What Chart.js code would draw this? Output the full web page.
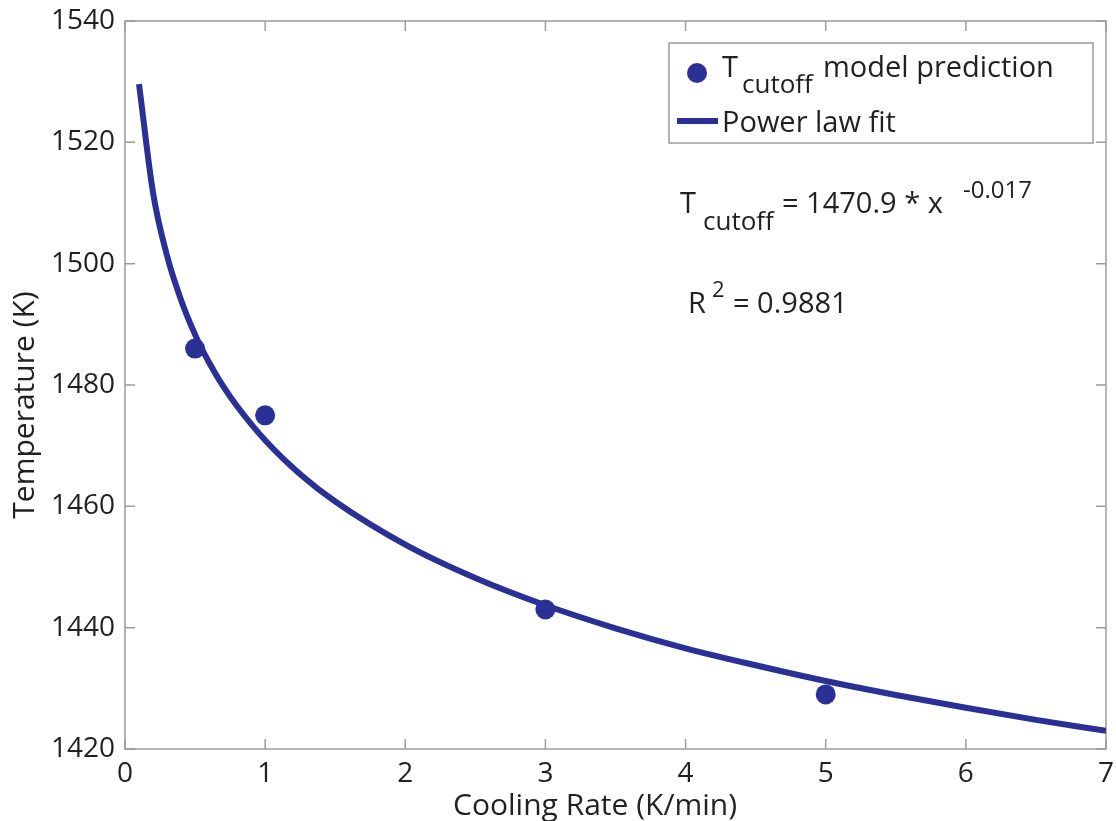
<!DOCTYPE html>
<html>
<head>
<meta charset="utf-8">
<script src="https://cdn.jsdelivr.net/npm/chart.js@4.4.1/dist/chart.umd.min.js"></script>
<style>
  html, body { margin: 0; padding: 0; background: #ffffff; }
  #wrap { width: 1116px; height: 821px; }
</style>
</head>
<body>
<div id="wrap"><canvas id="chart" width="1116" height="821"></canvas></div>
<script>
// Cooling rate (K/min) and predicted cutoff temperature (K)
const rateValues = [0.5, 1, 3, 5];
const cutoffTemps = [1486, 1475, 1443, 1429];

// Power law fit curve, T = 1470.9 * x^-0.017
const fitRates = [0.1, 0.2, 0.3, 0.4, 0.5, 0.6, 0.7, 0.8, 1.0, 1.25, 1.5, 2.0, 2.5, 3.0, 3.5, 4.0, 4.5, 5.0, 5.5, 6.0, 6.5, 7.0];
const fitTemps = [1529.6, 1511.7, 1501.3, 1494.0, 1488.3, 1483.7, 1479.8, 1476.5, 1470.9, 1465.3, 1460.8, 1453.7, 1448.2, 1443.7, 1439.9, 1436.6, 1433.8, 1431.2, 1428.9, 1426.8, 1424.8, 1423.0];

// Axis tick values
const xTicks = [0, 1, 2, 3, 4, 5, 6, 7];
const yTicks = [1420, 1440, 1460, 1480, 1500, 1520, 1540];

const BLUE = 'rgb(42,48,150)';
const AXIS = '#9c9c9c';
const INK = '#231f20';
const FONT = '"Open Sans", "DejaVu Sans", sans-serif';

function font(size) { return size + 'px ' + FONT; }

// Box around the plot with inward ticks on all four sides
const framePlugin = {
  id: 'frame',
  beforeDatasetsDraw(chart) {
    const { ctx, chartArea: a, scales } = chart;
    ctx.save();
    ctx.strokeStyle = AXIS;
    ctx.lineWidth = 1.5;
    ctx.strokeRect(a.left, a.top, a.right - a.left, a.bottom - a.top);
    const len = 10;
    ctx.beginPath();
    xTicks.forEach(v => {
      const px = scales.x.getPixelForValue(v);
      ctx.moveTo(px, a.bottom); ctx.lineTo(px, a.bottom - len);
      ctx.moveTo(px, a.top); ctx.lineTo(px, a.top + len);
    });
    yTicks.forEach(v => {
      const py = scales.y.getPixelForValue(v);
      ctx.moveTo(a.left, py); ctx.lineTo(a.left + len, py);
      ctx.moveTo(a.right, py); ctx.lineTo(a.right - len, py);
    });
    ctx.stroke();
    ctx.restore();
  },
  afterDraw(chart) {
    const { ctx } = chart;
    ctx.save();
    ctx.fillStyle = INK;
    ctx.textBaseline = 'alphabetic';
    ctx.textAlign = 'left';

    // axis titles
    ctx.font = font(30);
    ctx.textAlign = 'center';
    ctx.fillText('Cooling Rate (K/min)', 595, 815);
    ctx.save();
    ctx.translate(34, 405);
    ctx.rotate(-Math.PI / 2);
    ctx.fillText('Temperature (K)', 0, 0);
    ctx.restore();
    ctx.textAlign = 'left';

    // legend box
    ctx.strokeStyle = AXIS;
    ctx.lineWidth = 1.5;
    ctx.strokeRect(669, 43, 424, 100);

    const pts = chart.data.datasets[0];
    const fit = chart.data.datasets[1];
    ctx.fillStyle = pts.backgroundColor;
    ctx.beginPath();
    ctx.arc(697, 73, pts.pointRadius, 0, Math.PI * 2);
    ctx.fill();

    ctx.strokeStyle = fit.borderColor;
    ctx.lineWidth = fit.borderWidth;
    ctx.beginPath();
    ctx.moveTo(677, 121); ctx.lineTo(718, 121);
    ctx.stroke();

    ctx.fillStyle = INK;
    ctx.font = font(29);
    ctx.fillText('T', 722, 77);
    ctx.font = font(26);
    ctx.fillText('cutoff', 742, 93);
    ctx.font = font(29);
    ctx.fillText('model prediction', 823, 77);
    ctx.fillText('Power law fit', 722, 132);

    // fit equation
    ctx.font = font(29);
    ctx.fillText('T', 680, 213);
    ctx.font = font(26);
    ctx.fillText('cutoff', 703, 230);
    ctx.font = font(29);
    ctx.fillText('= 1470.9 * x', 782, 213);
    ctx.font = font(24);
    ctx.fillText('-0.017', 963, 198);

    ctx.font = font(29);
    ctx.fillText('R', 688, 313);
    ctx.font = font(22);
    ctx.fillText('2', 712, 297);
    ctx.font = font(29);
    ctx.fillText('= 0.9881', 733, 313);
    ctx.restore();
  }
};

const ctx = document.getElementById('chart').getContext('2d');
new Chart(ctx, {
  type: 'scatter',
  data: {
    datasets: [
      {
        label: 'T cutoff model prediction',
        data: rateValues.map((x, i) => ({ x, y: cutoffTemps[i] })),
        backgroundColor: BLUE,
        borderColor: BLUE,
        pointRadius: 10,
        pointHoverRadius: 10,
        borderWidth: 0,
        order: 1
      },
      {
        label: 'Power law fit',
        data: fitRates.map((x, i) => ({ x, y: fitTemps[i] })),
        showLine: true,
        borderColor: BLUE,
        backgroundColor: BLUE,
        borderWidth: 6,
        pointRadius: 0,
        cubicInterpolationMode: 'monotone',
        order: 0
      }
    ]
  },
  options: {
    responsive: false,
    animation: false,
    devicePixelRatio: 1,
    layout: { padding: { top: 21, right: 9, left: 0, bottom: 0 } },
    plugins: {
      legend: { display: false },
      tooltip: { enabled: false },
      title: { display: false }
    },
    scales: {
      x: {
        type: 'linear',
        min: 0, max: 7,
        afterBuildTicks: s => { s.ticks = xTicks.map(v => ({ value: v })); },
        ticks: { color: INK, font: { family: FONT, size: 28 }, padding: 8, maxRotation: 0,
                 callback: v => String(v) },
        grid: { display: false, drawTicks: false },
        border: { display: false },
        afterFit: s => { s.height = 72; s.paddingLeft = 0; s.paddingRight = 0; }
      },
      y: {
        type: 'linear',
        min: 1420, max: 1540,
        afterBuildTicks: s => { s.ticks = yTicks.map(v => ({ value: v })); },
        ticks: { color: INK, font: { family: FONT, size: 28 }, padding: 10,
                 callback: v => String(v) },
        grid: { display: false, drawTicks: false },
        border: { display: false },
        afterFit: s => { s.width = 125; s.paddingTop = 0; s.paddingBottom = 0; }
      }
    }
  },
  plugins: [framePlugin]
});
</script>
</body>
</html>
